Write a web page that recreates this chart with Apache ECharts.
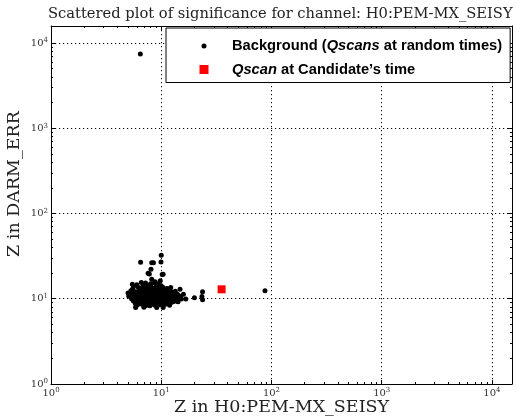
<!DOCTYPE html>
<html><head><meta charset="utf-8">
<script src="https://cdn.jsdelivr.net/npm/echarts@6/dist/echarts.min.js"></script>
<style>html,body{margin:0;padding:0;background:#fff}#c{width:516px;height:419px}</style>
</head><body><div id="c"></div>
<script>
const titleText = 'Scattered plot of significance for channel: H0:PEM-MX_SEISY';
const xName = 'Z in H0:PEM-MX_SEISY';
const yName = 'Z in DARM_ERR';
const bgName = 'Background (Qscans at random times)';
const candName = 'Qscan at Candidate\u2019s time';
const majorTicks = [1, 10, 100, 1000, 10000];
const minorTicks = [2,3,4,5,6,7,8,9,20,30,40,50,60,70,80,90,200,300,400,500,600,700,800,900,2000,3000,4000,5000,6000,7000,8000,9000];
const xMin = 1, xMax = 15200, yMin = 1, yMax = 15800;
const candidate = [[35.3, 12.9]];
const background = [
  [6.46,7430],
  [6.5,26.8],[8.2,26.5],[8.5,26.5],[10.0,32.3],[9.95,27.0],[8.07,22.1],[7.6,19.9],[7.8,19.5],[10.2,19.2],[10.4,19.4],
  [8.2,16.9],[6.6,15.5],[8.8,15.8],[9.8,16.2],
  [12.2,13.5],[14.8,12.9],[15.9,11.3],[16.7,9.9],[20.0,10.3],[23.7,12.1],[23.4,10.6],[23.7,9.7],[87.3,12.4],
  [5.47,14.8],[5.07,10.8],[5.86,7.9],[6.97,7.95],[9.1,7.9],[10.4,7.9],[12.2,9.0],[13.6,9.4],
  [7.2,15.3],[8.0,15.0],[8.7,15.4],[9.4,14.9],
  [6.0,14.6],[7.8,14.3],[9.0,14.4],[10.0,14.2],
  [5.6,13.8],[6.2,13.5],[6.8,13.9],[7.4,13.6],[8.1,13.7],[8.8,13.4],[9.6,13.8],[10.4,13.5],[11.3,13.2],
  [5.5,13.0],[6.5,13.1],[7.1,12.9],[7.8,13.0],[8.5,12.8],[9.2,13.1],[10.0,12.9],[10.9,12.7],[12.0,12.9],
  [5.3,12.4],[5.8,12.1],[6.3,12.5],[6.9,12.2],[7.5,12.4],[8.2,12.0],[8.9,12.3],[9.7,12.5],[10.6,12.1],[11.5,12.3],[12.5,11.9],[13.4,12.2],
  [5.0,11.7],[5.5,11.5],[6.0,11.7],[6.6,11.6],[7.2,11.5],[7.8,11.7],[8.5,11.4],[9.3,11.6],[10.1,11.5],[11.0,11.7],[12.0,11.4],[13.0,11.6],[14.0,11.3],
  [5.2,11.1],[5.7,10.8],[6.2,11.2],[6.7,10.9],[7.3,11.1],[8.0,10.8],[8.6,11.2],[9.4,11.0],[10.2,10.7],[11.1,11.1],[12.1,10.9],[13.2,10.8],[14.3,11.0],
  [5.3,10.4],[6.0,10.5],[6.6,10.3],[7.2,10.5],[7.9,10.3],[8.7,10.6],[9.5,10.4],[10.4,10.3],[11.4,10.5],[12.5,10.3],[13.6,10.5],[15.0,10.6],
  [5.4,9.9],[5.9,10.1],[6.5,9.8],[7.0,10.0],[7.7,9.7],[8.4,10.1],[9.1,9.8],[9.9,10.0],[10.8,9.7],[11.8,10.1],[12.9,9.8],[14.0,10.0],[15.2,9.9],
  [5.6,9.4],[6.2,9.5],[6.8,9.3],[7.4,9.5],[8.1,9.3],[8.8,9.5],[9.6,9.3],[10.5,9.5],[11.4,9.3],[12.4,9.5],[14.2,9.2],
  [5.8,8.9],[6.4,9.1],[7.0,8.8],[7.6,9.0],[8.3,8.7],[9.0,9.0],[9.8,8.8],[10.7,9.1],[11.7,8.9],[12.8,9.2],
  [6.1,8.5],[6.7,8.6],[7.4,8.4],[8.1,8.6],[8.8,8.4],[9.6,8.5],[10.9,8.6],[11.9,8.4],
  [5.9,8.2],[7.0,8.1],[7.9,8.3],[9.1,8.2],[10.4,8.4]
];

const serif = 'DejaVu Serif';
const sans = 'Liberation Sans';
const lbl = {
  show: true, customValues: majorTicks, margin: 3,
  formatter: v => '{b|10}{s|' + Math.round(Math.log10(v)) + '}',
  rich: {
    b: {fontFamily: serif, fontSize: 10, color: '#333', lineHeight: 12},
    s: {fontFamily: serif, fontSize: 7, color: '#333', verticalAlign: 'top'}
  }
};
const dotted = {show: true, lineStyle: {color: '#000', width: 1, type: [1.2, 2.8]}};
function ax(opts) {
  return Object.assign({
    type: 'log', logBase: 10,
    axisLine: {show: true, lineStyle: {color: '#000', width: 1}},
    axisTick: {show: true, inside: true, length: 4, customValues: majorTicks, lineStyle: {color: '#000'}},
    axisLabel: {show: false},
    splitLine: {show: false},
    minorTick: {show: false}
  }, opts);
}
const minorTickStyle = {show: true, inside: true, length: 2, customValues: minorTicks, lineStyle: {color: '#000'}};

const option = {
  animation: false,
  backgroundColor: '#fff',
  title: {
    text: titleText, left: 43, top: 2,
    textStyle: {fontFamily: serif, fontSize: 14.7, fontWeight: 'normal', color: '#222'}
  },
  grid: {left: 51, right: 4, top: 26, bottom: 35, containLabel: false, outerBoundsMode: 'none'},
  legend: {
    left: 166, top: 28, orient: 'vertical',
    selectedMode: false,
    backgroundColor: '#fff', borderColor: '#000', borderWidth: 1, borderRadius: 0,
    padding: [10.5, 8, 5.5, 33],
    itemGap: 8.5, itemWidth: 28, itemHeight: 10,
    data: [
      {name: bgName, icon: 'path://M0 0L0 0M28 10L28 10M7.5 5A2.5 2.5 0 1 1 2.5 5A2.5 2.5 0 1 1 7.5 5Z'},
      {name: candName, icon: 'path://M0 0L0 0M28 10L28 10M0.5 0.5H9.5V9.5H0.5Z'}
    ],
    formatter: function (n) {
      if (n === bgName) return '{b|Background (}{bi|Qscans}{b| at random times)}';
      return '{bi|Qscan}{b| at Candidate\u2019s time}';
    },
    textStyle: {
      rich: {
        b: {fontFamily: sans, fontWeight: 'bold', fontSize: 14.7, color: '#000', lineHeight: 16},
        bi: {fontFamily: sans, fontWeight: 'bold', fontStyle: 'italic', fontSize: 14.7, color: '#000', lineHeight: 16}
      }
    }
  },
  xAxis: [
    ax({gridIndex: 0, position: 'bottom', min: xMin, max: xMax, axisLabel: lbl, splitLine: dotted,
        name: xName, nameLocation: 'middle', nameGap: 14, nameMoveOverlap: false,
        nameTextStyle: {fontFamily: serif, fontSize: 17.5, color: '#222', verticalAlign: 'top'}}),
    ax({position: 'top', min: xMin, max: xMax}),
    ax({position: 'bottom', min: xMin, max: xMax, axisTick: minorTickStyle, axisLine: {show: false}}),
    ax({position: 'top', min: xMin, max: xMax, axisTick: minorTickStyle, axisLine: {show: false}})
  ],
  yAxis: [
    ax({position: 'left', min: yMin, max: yMax, axisLabel: lbl, splitLine: dotted,
        name: yName, nameLocation: 'middle', nameGap: 28, nameRotate: 90, nameMoveOverlap: false,
        nameTextStyle: {fontFamily: serif, fontSize: 17.5, color: '#222', padding: [0, 0, 0, 42]}}),
    ax({position: 'right', min: yMin, max: yMax}),
    ax({position: 'left', min: yMin, max: yMax, axisTick: minorTickStyle, axisLine: {show: false}}),
    ax({position: 'right', min: yMin, max: yMax, axisTick: minorTickStyle, axisLine: {show: false}})
  ],
  series: [
    {name: bgName, type: 'scatter', xAxisIndex: 0, yAxisIndex: 0, data: background,
     symbol: 'circle', symbolSize: 5, itemStyle: {color: '#000', opacity: 1}, silent: true, z: 3},
    {name: candName, type: 'scatter', xAxisIndex: 0, yAxisIndex: 0, data: candidate,
     symbol: 'rect', symbolSize: 8, itemStyle: {color: '#f00', opacity: 1}, silent: true, z: 4}
  ]
};
const chart = echarts.init(document.getElementById('c'), null, {renderer: 'canvas'});
chart.setOption(option);
</script></body></html>
